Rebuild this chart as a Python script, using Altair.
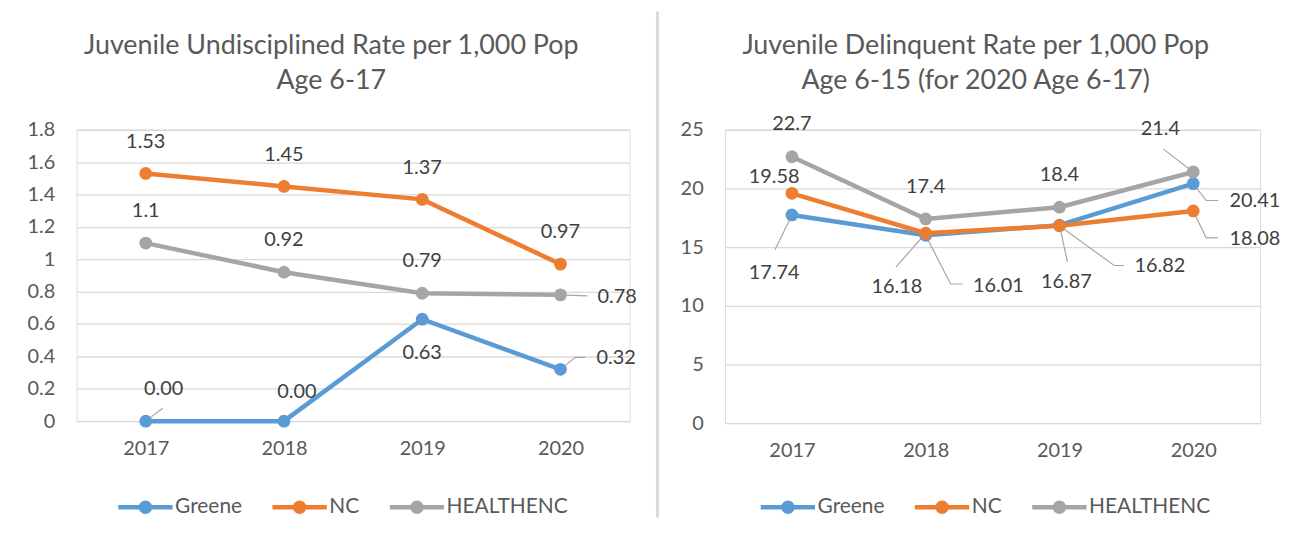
import altair as alt
import pandas as pd

years = [2017, 2018, 2019, 2020]
series = ["Greene", "NC", "HEALTHENC"]
colors = ["#5B9BD5", "#ED7D31", "#A5A5A5"]

# Left panel: Juvenile Undisciplined Rate per 1,000 (age 6-17)
undisc_greene = [0.00, 0.00, 0.63, 0.32]
undisc_nc = [1.53, 1.45, 1.37, 0.97]
undisc_healthenc = [1.10, 0.92, 0.79, 0.78]

# Right panel: Juvenile Delinquent Rate per 1,000
delinq_greene = [17.74, 16.01, 16.87, 20.41]
delinq_nc = [19.58, 16.18, 16.82, 18.08]
delinq_healthenc = [22.7, 17.4, 18.4, 21.4]

left_ticks = [0, 0.2, 0.4, 0.6, 0.8, 1, 1.2, 1.4, 1.6, 1.8]
right_ticks = [0, 5, 10, 15, 20, 25]

left_title = ["Juvenile Undisciplined Rate per 1,000 Pop", "Age 6-17"]
right_title = ["Juvenile Delinquent Rate per 1,000 Pop", "Age 6-15 (for 2020 Age 6-17)"]

# data-label placement (pixel offsets from the point: dx right, dy down)
left_label_off = {
    "Greene": [(18, -32), (13, -29), (0, 34), (56, -11)],
    "NC": [(0, -32), (0, -32), (0, -32), (0, -32)],
    "HEALTHENC": [(0, -32), (0, -32), (0, -32), (57, 2)],
}
right_label_off = {
    "Greene": [(-18, 58), (73, 51), (7, 57), (62, 18)],
    "NC": [(-18, -16), (-29, 54), (101, 41), (62, 28)],
    "HEALTHENC": [(0, -33), (0, -32), (0, -32), (-33, -43)],
}
# leader lines (series, year index, list of pixel offsets)
left_leaders = [
    ("Greene", 0, [(0, 0), (17, -13)]),
    ("Greene", 3, [(0, 0), (15, -12), (25, -12)]),
    ("HEALTHENC", 3, [(0, 0), (27, 1)]),
]
right_leaders = [
    ("Greene", 0, [(0, 0), (-17, 35)]),
    ("NC", 1, [(0, 0), (-30, 34)]),
    ("Greene", 1, [(0, 0), (25, 49), (37, 49)]),
    ("Greene", 2, [(0, 0), (8, 37)]),
    ("NC", 2, [(0, 0), (55, 40), (65, 40)]),
    ("HEALTHENC", 3, [(0, 0), (-30, -23)]),
    ("Greene", 3, [(0, 0), (13, 17), (25, 17)]),
    ("NC", 3, [(0, 0), (13, 27), (25, 27)]),
]

FONT = "Lato"
TXT = "#595959"
LEGEND_PATH = "M-3.2,0L1,0M-1.45,0A0.35,0.35,0,1,1,-0.75,0A0.35,0.35,0,1,1,-1.45,0"


def panel(values, fmtfn, label_off, leaders, ymax, yticks, width, height, title, title_x,
          legend_x, minext, divider_x=None):
    pxx = width / 4.0
    pxy = height / ymax
    main = []
    labels = []
    for s in series:
        for i, y in enumerate(years):
            v = values[s][i]
            main.append({"series": s, "x": y, "y": v})
            dx, dy = label_off[s][i]
            labels.append({"series": s, "x": y + dx / pxx, "y": v - dy / pxy, "text": fmtfn(s, v)})
    lead = []
    for j, (s, i, pts) in enumerate(leaders):
        v = values[s][i]
        for k, (ox, oy) in enumerate(pts):
            lead.append({"id": j, "k": k, "x": years[i] + ox / pxx, "y": v - oy / pxy})
    main = pd.DataFrame(main)
    labels = pd.DataFrame(labels)
    lead = pd.DataFrame(lead)
    one = pd.DataFrame({"a": [0]})

    xenc = alt.X("x:Q", scale=alt.Scale(domain=[2016.5, 2020.5], nice=False, zero=False),
                 axis=alt.Axis(values=years, format="d", grid=False, domain=False, ticks=False,
                               labelPadding=18, labelFontSize=20, labelFont=FONT, labelColor=TXT,
                               title=None))
    yenc = alt.Y("y:Q", scale=alt.Scale(domain=[0, ymax], nice=False, zero=True),
                 axis=alt.Axis(values=yticks, format="~g", grid=True, gridColor="#D9D9D9",
                               gridWidth=1.3, domain=False, ticks=False, labelPadding=22,
                               labelFontSize=20, labelFont=FONT, labelColor=TXT, title=None,
                               minExtent=minext, maxExtent=minext))
    cenc = alt.Color("series:N", scale=alt.Scale(domain=series, range=colors),
                     legend=alt.Legend(title=None, orient="none", direction="horizontal",
                                       legendX=legend_x, legendY=364, columns=3,
                                       gridAlign="none",
                                       symbolType=LEGEND_PATH, symbolSize=676,
                                       symbolStrokeWidth=4.5, labelFontSize=21, labelFont=FONT,
                                       labelColor=TXT, labelOffset=0, columnPadding=20,
                                       padding=0))
    layers = []
    if divider_x is not None:
        # chart frame divider (Excel chart border)
        layers.append(alt.Chart(one).mark_rule(color="#D9D9D9", strokeWidth=3).encode(
            x=alt.value(divider_x), y=alt.value(-119), y2=alt.value(390)))
    # two-line chart title
    for txt, ty in zip(title, [-84, -49]):
        layers.append(alt.Chart(one).mark_text(fontSize=27, font=FONT, color=TXT,
                                               align="center", baseline="middle").encode(
            x=alt.value(title_x), y=alt.value(ty), text=alt.value(txt)))
    for s in series:
        layers.append(alt.Chart(main).transform_filter(alt.datum.series == s)
                      .mark_line(strokeWidth=4.5)
                      .encode(x=xenc, y=yenc, color=cenc))
    layers.append(alt.Chart(lead).mark_line(color="#A6A6A6", strokeWidth=1.2)
                  .encode(x=xenc, y=yenc, detail="id:N", order="k:Q"))
    for s in series:
        layers.append(alt.Chart(main).transform_filter(alt.datum.series == s)
                      .mark_circle(size=165, opacity=1)
                      .encode(x=xenc, y=yenc, color=cenc))
    layers.append(alt.Chart(labels).mark_text(fontSize=20, font=FONT, color="#404040",
                                              align="center", baseline="middle")
                  .encode(x=xenc, y=yenc, text="text:N"))
    return alt.layer(*layers).properties(width=width, height=height)


def fmt_left(s, v):
    if s == "Greene":
        return f"{v:.2f}"
    return f"{v:g}"


def fmt_right(s, v):
    return f"{v:g}"


left = panel({"Greene": undisc_greene, "NC": undisc_nc, "HEALTHENC": undisc_healthenc},
             fmt_left, left_label_off, left_leaders, 1.8, left_ticks, 556, 293,
             left_title, 256, 68, 63, divider_x=584)
right = panel({"Greene": delinq_greene, "NC": delinq_nc, "HEALTHENC": delinq_healthenc},
              fmt_right, right_label_off, right_leaders, 25, right_ticks, 538, 295,
              right_title, 252, 62, 60)

chart = alt.hconcat(left, right, spacing=5).resolve_scale(color="independent").resolve_legend(
    color="independent").properties(padding={"left": 5, "top": 0, "right": 0, "bottom": 0}
).configure_view(stroke=None).configure(background="white")

chart.save("out.html", embed_options={"renderer": "svg", "actions": False})
